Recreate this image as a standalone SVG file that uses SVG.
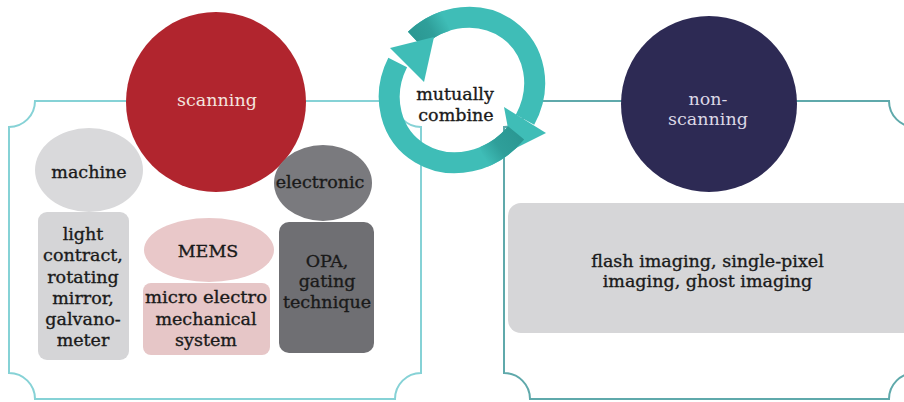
<svg xmlns="http://www.w3.org/2000/svg" width="904" height="402" viewBox="0 0 904 402">
  <style>
    .t { font-family: "DejaVu Serif", "Liberation Serif", serif; font-size: 17.5px; text-anchor: middle; fill: #1a1a1a; stroke: #1a1a1a; stroke-width: 0.35; }
    .lt { fill: #f4e4df; stroke: none; }
    .lv { fill: #dcd8e6; stroke: none; }
    .frameL { fill: none; stroke: #86d2d6; stroke-width: 2; }
    .frameR { fill: none; stroke: #5fa9ab; stroke-width: 2; }
    .band { fill: none; stroke: #3fbdb7; stroke-width: 21; stroke-linecap: butt; }
    .head { fill: #3fbdb7; }
  </style>
  <defs>
    <linearGradient id="shadeA" gradientUnits="userSpaceOnUse" x1="516" y1="133" x2="483.5" y2="157">
      <stop offset="0" stop-color="#2b9893"/>
      <stop offset="0.55" stop-color="#2f9f9a"/>
      <stop offset="1" stop-color="#3fbdb7"/>
    </linearGradient>
    <linearGradient id="shadeB" gradientUnits="userSpaceOnUse" x1="415" y1="39" x2="446.6" y2="20.8">
      <stop offset="0" stop-color="#2b9893"/>
      <stop offset="0.5" stop-color="#2f9f9a"/>
      <stop offset="1" stop-color="#3fbdb7"/>
    </linearGradient>
  </defs>

  <rect width="904" height="402" fill="#ffffff"/>

  <!-- outer frames with notched corners -->
  <g id="frames">
    <path class="frameL" d="M35,101 H395 A26,26 0 0 0 421,127 V373 A26,26 0 0 0 395,399 H35 A26,26 0 0 0 9,373 V127 A26,26 0 0 0 35,101 Z"/>
    <path class="frameR" d="M530,101 H889 A26,26 0 0 0 915,127 V373 A26,26 0 0 0 889,399 H530 A26,26 0 0 0 504,373 V127 A26,26 0 0 0 530,101 Z"/>
  </g>

  <!-- scanning branch -->
  <g id="scanning">
    <circle cx="216" cy="102" r="90" fill="#b1252e"/>
    <text class="t lt" x="217" y="106">scanning</text>
  </g>

  <g id="machine">
    <ellipse cx="89" cy="170" rx="54" ry="42" fill="#d9d9db"/>
    <text class="t" x="89" y="178">machine</text>
  </g>
  <g id="machine-detail">
    <rect x="38" y="212" width="91" height="148" rx="9" fill="#d5d5d7"/>
    <text class="t" x="83" y="240">light</text>
    <text class="t" x="83" y="261">contract,</text>
    <text class="t" x="83" y="282.5">rotating</text>
    <text class="t" x="83" y="304">mirror,</text>
    <text class="t" x="83" y="325">galvano-</text>
    <text class="t" x="83" y="346">meter</text>
  </g>

  <g id="mems">
    <ellipse cx="209" cy="250" rx="65" ry="32" fill="#e9c8c9"/>
    <text class="t" x="208" y="256.5">MEMS</text>
  </g>
  <g id="mems-detail">
    <rect x="143" y="283" width="127" height="72" rx="8" fill="#e6c6c7"/>
    <text class="t" x="206" y="303" textLength="122" lengthAdjust="spacingAndGlyphs">micro electro</text>
    <text class="t" x="206" y="324.5">mechanical</text>
    <text class="t" x="206" y="345.5">system</text>
  </g>

  <g id="electronic">
    <ellipse cx="323" cy="183" rx="49" ry="38" fill="#7a7a7e"/>
    <text class="t" x="320" y="187.5">electronic</text>
  </g>
  <g id="electronic-detail">
    <rect x="279" y="222" width="95" height="131" rx="10" fill="#6f6f73"/>
    <text class="t" x="327" y="266.5">OPA,</text>
    <text class="t" x="327" y="287">gating</text>
    <text class="t" x="327" y="308">technique</text>
  </g>

  <!-- non-scanning branch -->
  <g id="non-scanning">
    <circle cx="709" cy="104" r="88" fill="#2d2a54"/>
    <text class="t lv" x="708" y="105">non-</text>
    <text class="t lv" x="708" y="125">scanning</text>
  </g>
  <g id="non-scanning-detail">
    <rect x="508" y="203" width="420" height="130" rx="13" fill="#d6d6d8"/>
    <text class="t" x="707.5" y="267">flash imaging, single-pixel</text>
    <text class="t" x="707.5" y="287">imaging, ghost imaging</text>
  </g>

  <!-- cyclic arrows linking the two branches (tilted elliptical ring) -->
  <g id="connectors">
    <!-- arrow B: upper-left over the top, down the right side -->
    <path class="band" d="M415.1,39.3 A76,69 -45 0 1 525,119.8"/>
    <path fill="none" stroke="url(#shadeB)" stroke-width="21" d="M415.1,39.3 A76,69 -45 0 1 446.6,20.8"/>
    <polygon class="head" points="504,107 546,133 512,150"/>
    <!-- arrow A: lower-right round the bottom, up the left side -->
    <path class="band" d="M516.1,132.9 A76,69 -45 0 1 397.7,62.5"/>
    <path fill="none" stroke="url(#shadeA)" stroke-width="21" d="M516.1,132.9 A76,69 -45 0 1 483.5,156.9"/>
    <polygon class="head" points="390,48 434,37 424,82"/>
  </g>

  <g id="combine-label">
    <text class="t" x="455" y="100">mutually</text>
    <text class="t" x="456" y="121">combine</text>
  </g>
</svg>
